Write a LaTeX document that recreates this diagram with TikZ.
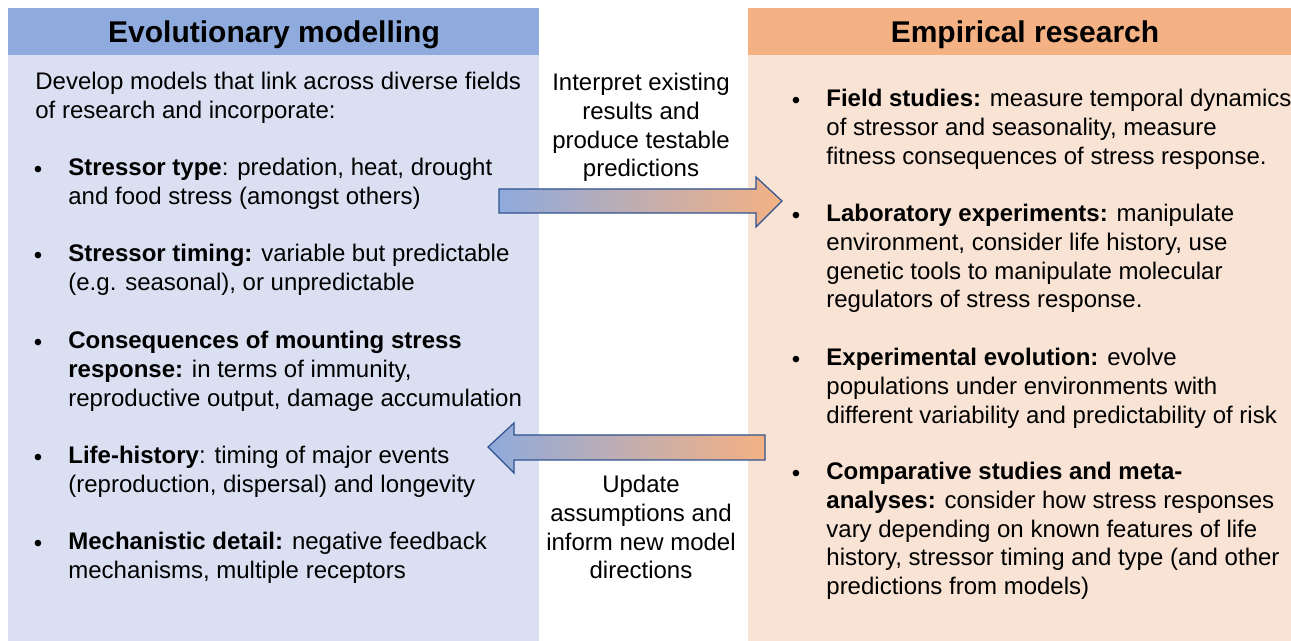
\documentclass[tikz,border=0pt]{standalone}
\usepackage{fontspec}
\setmainfont{Liberation Sans}
\definecolor{evohead}{HTML}{8FAADC}
\definecolor{evobody}{HTML}{DAE0F2}
\definecolor{emphead}{HTML}{F4B183}
\definecolor{empbody}{HTML}{F9E3D5}
\definecolor{arrowedge}{HTML}{2F528F}
\begin{document}
\begin{tikzpicture}[x=0.5pt,y=-0.5pt,
	txt/.style={anchor=north west, yshift=8.5pt, align=left, inner sep=0pt, font=\fontsize{12}{14.35}\selectfont, execute at begin node=\strut},
	mid/.style={anchor=north, yshift=8.5pt, align=center, inner sep=0pt, font=\fontsize{12}{14.35}\selectfont, execute at begin node=\strut},
	dot/.style={anchor=base, yshift=-1.5pt, inner sep=0pt, font=\fontsize{12}{14.35}\selectfont},
	head/.style={inner sep=0pt, font=\fontsize{15}{18}\selectfont\bfseries},
	blockarrow/.style={draw=arrowedge, line width=0.6pt, line join=miter}]
	\useasboundingbox (0,0) rectangle (1291,641);
	% panels
	\fill[evobody] (8,55) rectangle (539,641);
	\fill[evohead] (8,8) rectangle (539,55);
	\fill[empbody] (748,55) rectangle (1291,641);
	\fill[emphead] (748,8) rectangle (1291,55);
	\node (EvoHead) at (274,35)	[head]	{Evolutionary modelling};
	\node (EmpHead) at (1025,35)	[head]	{Empirical research};
	% left column
	\node (Intro) at (35,89)	[txt]	{Develop models that link across diverse fields\\of research and incorporate:};
	\node (B1) at (38,175)	[dot]	{\textbullet};
	\node (L1) at (68,175)	[txt]	{\textbf{Stressor type}: predation, heat, drought\\and food stress (amongst others)};
	\node (B2) at (38,261)	[dot]	{\textbullet};
	\node (L2) at (68,261)	[txt]	{\textbf{Stressor timing:} variable but predictable\\(e.g. seasonal), or unpredictable};
	\node (B3) at (38,348)	[dot]	{\textbullet};
	\node (L3) at (68,348)	[txt]	{\textbf{Consequences of mounting stress}\\\textbf{response:} in terms of immunity,\\reproductive output, damage accumulation};
	\node (B4) at (38,463)	[dot]	{\textbullet};
	\node (L4) at (68,463)	[txt]	{\textbf{Life-history}: timing of major events\\(reproduction, dispersal) and longevity};
	\node (B5) at (38,549)	[dot]	{\textbullet};
	\node (L5) at (68,549)	[txt]	{\textbf{Mechanistic detail:} negative feedback\\mechanisms, multiple receptors};
	% right column
	\node (C1) at (796,106)	[dot]	{\textbullet};
	\node (R1) at (826,106)	[txt]	{\textbf{Field studies:} measure temporal dynamics\\of stressor and seasonality, measure\\fitness consequences of stress response.};
	\node (C2) at (796,221)	[dot]	{\textbullet};
	\node (R2) at (826,221)	[txt]	{\textbf{Laboratory experiments:} manipulate\\environment, consider life history, use\\genetic tools to manipulate molecular\\regulators of stress response.};
	\node (C3) at (796,365)	[dot]	{\textbullet};
	\node (R3) at (826,365)	[txt]	{\textbf{Experimental evolution:} evolve\\populations under environments with\\different variability and predictability of risk};
	\node (C4) at (796,479)	[dot]	{\textbullet};
	\node (R4) at (826,479)	[txt]	{\textbf{Comparative studies and meta-}\\\textbf{analyses:} consider how stress responses\\vary depending on known features of life\\history, stressor timing and type (and other\\predictions from models)};
	% middle
	\node (Interpret) at (641,90)	[mid]	{Interpret existing\\results and\\produce testable\\predictions};
	\node (Update) at (641,492)	[mid]	{Update\\assumptions and\\inform new model\\directions};
	\draw[blockarrow, left color=evohead, right color=emphead]
		(499,189) -- (756,189) -- (756,177) -- (782,201) -- (756,227) -- (756,213) -- (499,213) -- cycle;
	\draw[blockarrow, left color=evohead, right color=emphead]
		(765,435) -- (514,435) -- (514,423) -- (488,447) -- (514,473) -- (514,460) -- (765,460) -- cycle;
\end{tikzpicture}
\end{document}
